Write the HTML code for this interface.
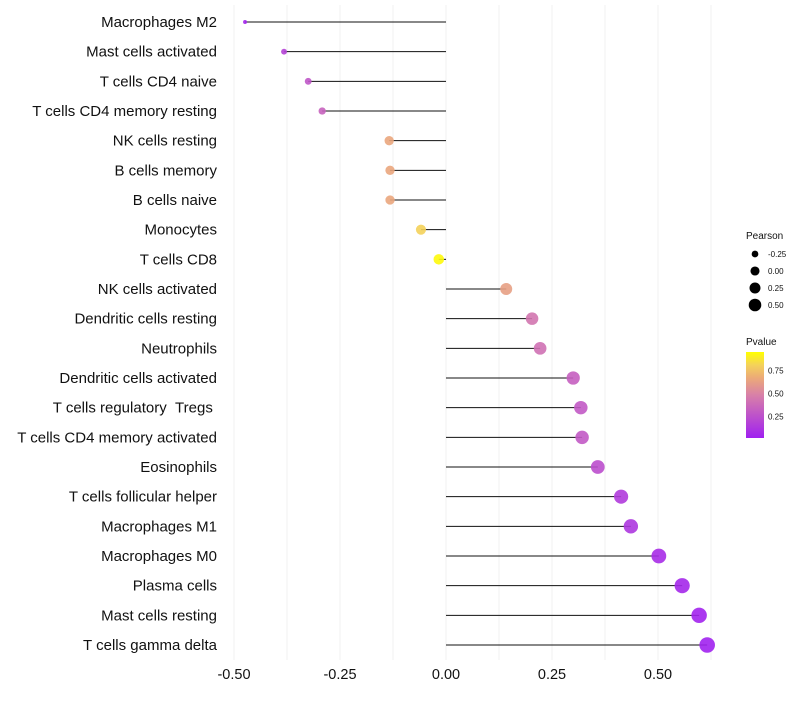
<!DOCTYPE html>
<html><head><meta charset="utf-8"><style>
body{margin:0;background:#fff;font-family:"Liberation Sans",sans-serif}
</style></head><body>
<svg id="chart" width="800" height="700" xmlns="http://www.w3.org/2000/svg" font-family="Liberation Sans, sans-serif"></svg>
<script>
const categories=["Macrophages M2","Mast cells activated","T cells CD4 naive","T cells CD4 memory resting","NK cells resting","B cells memory","B cells naive","Monocytes","T cells CD8","NK cells activated","Dendritic cells resting","Neutrophils","Dendritic cells activated","T cells regulatory\u00a0\u00a0Tregs\u00a0","T cells CD4 memory activated","Eosinophils","T cells follicular helper","Macrophages M1","Macrophages M0","Plasma cells","Mast cells resting","T cells gamma delta"];
const pearson=[-0.474,-0.382,-0.325,-0.292,-0.134,-0.132,-0.132,-0.059,-0.017,0.142,0.203,0.222,0.30,0.318,0.321,0.358,0.413,0.436,0.502,0.557,0.597,0.616];
const pvalue=[0.03,0.18,0.28,0.35,0.68,0.68,0.68,0.85,0.98,0.65,0.45,0.42,0.33,0.3,0.3,0.24,0.14,0.12,0.06,0.04,0.02,0.01];
const xTicks=[-0.5,-0.25,0,0.25,0.5];
const xTickLabels=["-0.50","-0.25","0.00","0.25","0.50"];
const sizeLegend=[-0.25,0,0.25,0.5];
const sizeLegendLabels=["-0.25","0.00","0.25","0.50"];
const colorLegend=[0.25,0.5,0.75];
const colorLegendLabels=["0.25","0.50","0.75"];

const svg=document.getElementById('chart');
const NS="http://www.w3.org/2000/svg";
function mk(t,a,p){const e=document.createElementNS(NS,t);for(const k in a)e.setAttribute(k,a[k]);(p||svg).appendChild(e);return e;}
const xs=v=>446+v*424;
const ys=i=>22+i*(623/21);
const rs=v=>{const t=(v+0.5)/1.15;return Math.sqrt(2.5+t*60);};
function lerp(a,b,t){return a.map((x,i)=>Math.round(x+(b[i]-x)*t));}
const stops=[[0,[160,32,240]],[0.5,[216,128,168]],[0.7,[236,170,120]],[0.85,[244,210,90]],[1,[255,255,0]]];
function col(p){for(let i=1;i<stops.length;i++){if(p<=stops[i][0]){const t=(p-stops[i-1][0])/(stops[i][0]-stops[i-1][0]);const c=lerp(stops[i-1][1],stops[i][1],t);return `rgb(${c})`;}}return 'rgb(255,255,0)';}

for(let v=-0.5;v<=0.626;v+=0.125){
  const g=mk('line',{x1:xs(v),x2:xs(v),y1:5,y2:660,stroke:'#f0f0f0','stroke-width':1});
  
  
}
xTicks.forEach((v,i)=>{
  const t=mk('text',{x:xs(v),y:679,'text-anchor':'middle','font-size':14.5,fill:'#111'});
  t.textContent=xTickLabels[i];
  
  
});
categories.forEach((c,i)=>{
  const y=ys(i);
  const lab=mk('text',{x:217,y:y+5,'text-anchor':'end','font-size':15,fill:'#111'});
  lab.textContent=c;
  
  
  const ln=mk('line',{x1:xs(0),x2:xs(pearson[i]),y1:y,y2:y,stroke:'#111','stroke-width':1});
  
  
  const pt=mk('circle',{cx:xs(pearson[i]),cy:y,r:rs(pearson[i]),fill:col(pvalue[i]),'fill-opacity':0.9});
  
  
});
const lt=mk('text',{x:746,y:239,'font-size':10,fill:'#111'});lt.textContent='Pearson';


sizeLegend.forEach((v,i)=>{
  const y=254+i*17;
  const c=mk('circle',{cx:755,cy:y,r:rs(v)*0.85,fill:'#000'});
  
  
  const t=mk('text',{x:768,y:y+3,'font-size':8,fill:'#111'});t.textContent=sizeLegendLabels[i];
  
  
});
const pt2=mk('text',{x:746,y:345,'font-size':10,fill:'#111'});pt2.textContent='Pvalue';


const defs=mk('defs',{});
const grad=mk('linearGradient',{id:'pg',x1:0,y1:1,x2:0,y2:0},defs);
[0,0.25,0.5,0.7,0.85,1].forEach(p=>mk('stop',{offset:p,'stop-color':col(p)},grad));
const bar=mk('rect',{x:746,y:352,width:18,height:86,fill:'url(#pg)'});


const cy=p=>438-(p-0.02)/0.93*86;
colorLegend.forEach((v,i)=>{
  const t=mk('text',{x:768,y:cy(v)+3,'font-size':8,fill:'#111'});t.textContent=colorLegendLabels[i];
  
  
});
</script>
</body></html>
